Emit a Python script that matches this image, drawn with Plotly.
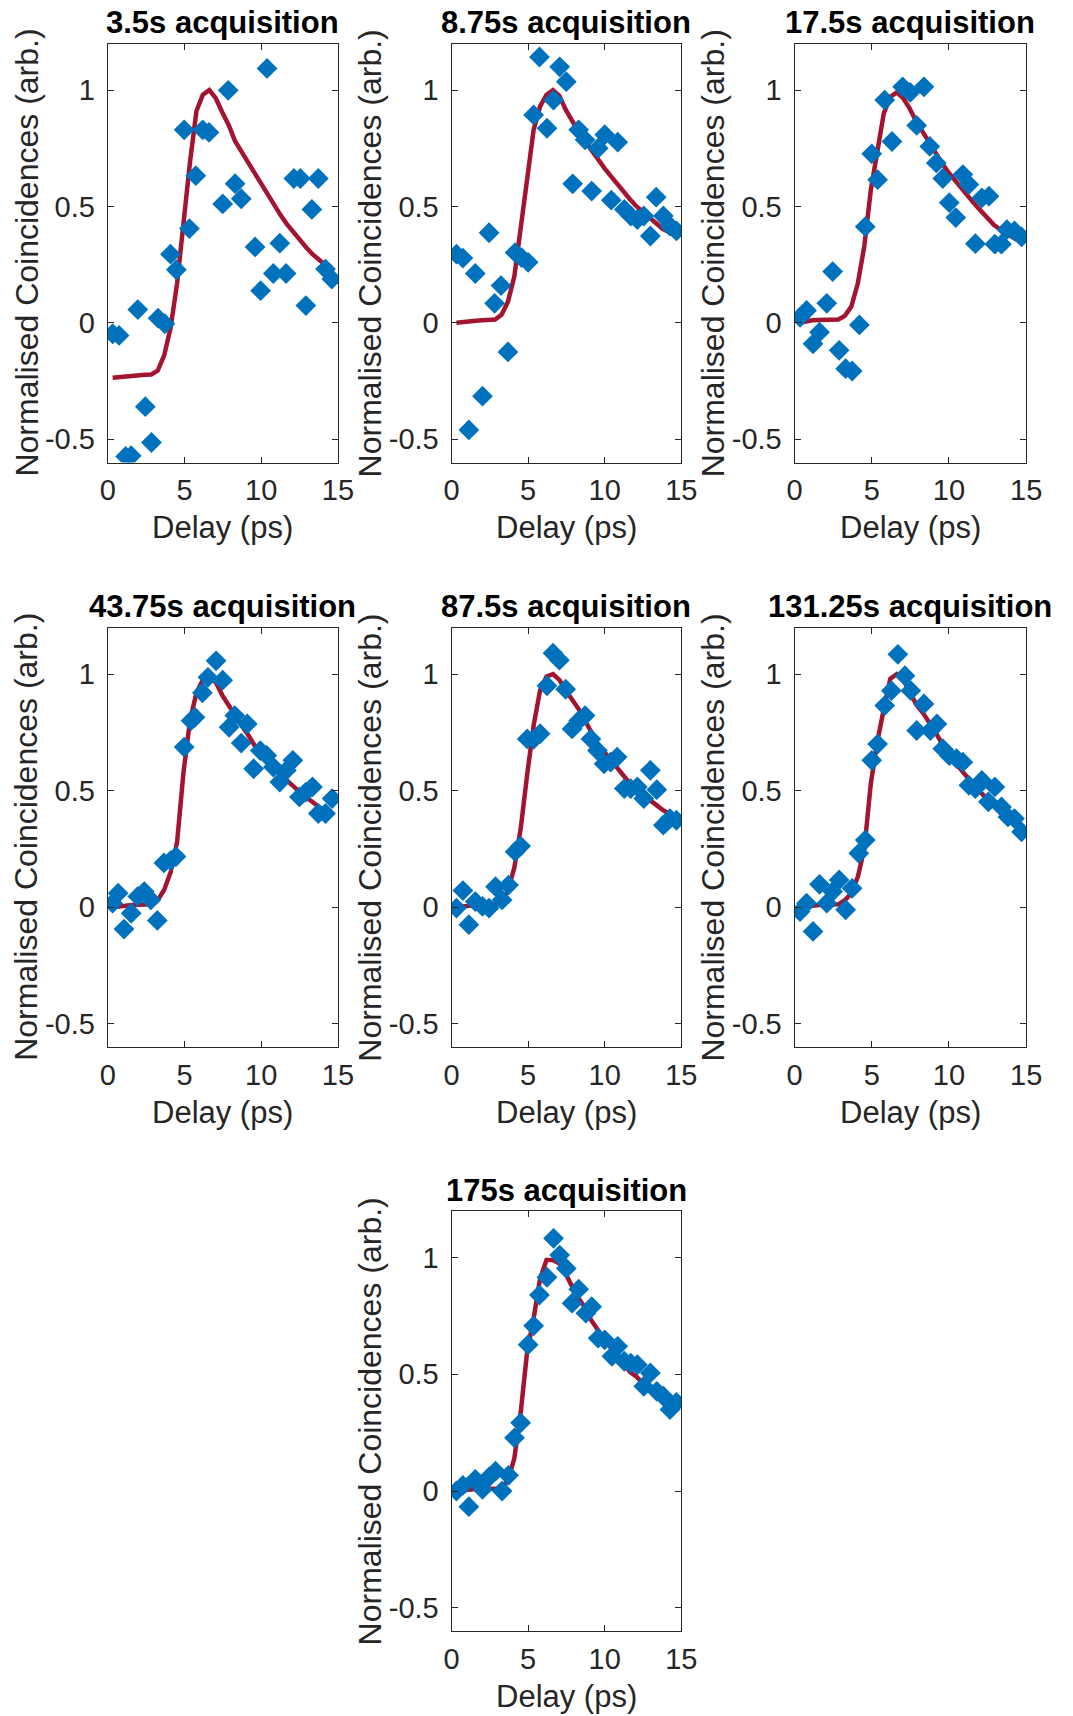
import plotly.graph_objects as go

# ---------------- data ----------------
titles = ["3.5s acquisition", "8.75s acquisition", "17.5s acquisition",
          "43.75s acquisition", "87.5s acquisition", "131.25s acquisition",
          "175s acquisition"]

fit_delay = [0.32, 0.74, 1.16, 1.58, 2.0, 2.42, 2.84, 3.26, 3.68, 4.1, 4.52, 4.94,
             5.36, 5.78, 6.2, 6.62, 7.04, 7.46, 7.88, 8.3, 8.72, 9.14, 9.56, 9.98,
             10.4, 10.82, 11.24, 11.66, 12.08, 12.5, 12.92, 13.34, 13.76, 14.18, 14.6]

x1 = [0.32, 0.74, 1.17, 1.53, 1.96, 2.45, 2.85, 3.28, 3.72, 4.09, 4.47, 4.98, 5.32, 5.74,
      6.19, 6.6, 7.49, 7.85, 8.3, 8.7, 9.6, 9.96, 10.38, 10.79, 11.21, 11.62, 12.13,
      12.55, 12.91, 13.3, 13.72, 14.19, 14.6]
y1 = [-0.047, -0.054, -0.574, -0.571, 0.057, -0.36, -0.514, 0.02, -0.004, 0.295, 0.228,
      0.829, 0.405, 0.632, 0.829, 0.818, 0.511, 0.999, 0.598, 0.533, 0.326, 0.138, 1.093,
      0.212, 0.342, 0.212, 0.62, 0.62, 0.074, 0.487, 0.62, 0.231, 0.188]
fit1 = [-0.236, -0.233, -0.229, -0.226, -0.224, -0.223, -0.222, -0.205, -0.14, -0.02, 0.17,
        0.45, 0.69, 0.91, 0.98, 1.0, 0.965, 0.905, 0.85, 0.78, 0.735, 0.685, 0.64, 0.595,
        0.55, 0.51, 0.465, 0.425, 0.39, 0.355, 0.325, 0.295, 0.27, 0.245, 0.225]

x2 = [0.32, 0.74, 1.13, 1.55, 2.02, 2.45, 2.81, 3.23, 3.68, 4.15, 4.57, 5.0, 5.36, 5.74,
      6.23, 6.66, 7.06, 7.49, 7.91, 8.3, 8.72, 9.15, 9.57, 10.0, 10.43, 10.85, 11.28,
      11.7, 12.13, 12.55, 12.98, 13.36, 13.83, 14.26, 14.68]
y2 = [0.295, 0.278, -0.46, 0.212, -0.315, 0.387, 0.084, 0.16, -0.125, 0.302, 0.28, 0.26,
      0.893, 1.142, 0.836, 0.957, 1.1, 1.036, 0.597, 0.829, 0.786, 0.566, 0.75, 0.808,
      0.527, 0.776, 0.487, 0.459, 0.444, 0.459, 0.373, 0.54, 0.459, 0.416, 0.395]
fit2 = [0.0, 0.004, 0.007, 0.009, 0.011, 0.012, 0.014, 0.035, 0.09, 0.2, 0.41, 0.64, 0.83,
        0.93, 0.98, 1.0, 0.975, 0.915, 0.865, 0.82, 0.78, 0.74, 0.70, 0.665, 0.63, 0.595,
        0.56, 0.53, 0.50, 0.475, 0.45, 0.425, 0.405, 0.39, 0.375]

x3 = [0.36, 0.78, 1.2, 1.62, 2.09, 2.47, 2.89, 3.31, 3.73, 4.2, 4.58, 5.0, 5.38, 5.84,
      6.31, 7.0, 7.49, 7.91, 8.38, 8.76, 9.18, 9.6, 10.02, 10.44, 10.9, 11.29, 11.71,
      12.13, 12.59, 12.97, 13.4, 13.75, 14.24, 14.7]
y3 = [0.024, 0.053, -0.09, -0.04, 0.084, 0.22, -0.118, -0.197, -0.207, -0.009, 0.413,
      0.726, 0.615, 0.957, 0.779, 1.014, 0.99, 0.848, 1.014, 0.758, 0.687, 0.62, 0.516,
      0.452, 0.637, 0.594, 0.34, 0.537, 0.544, 0.338, 0.338, 0.4, 0.395, 0.369]
fit3 = [0.0, 0.008, 0.011, 0.012, 0.013, 0.013, 0.014, 0.03, 0.07, 0.17, 0.33, 0.57, 0.75,
        0.90, 0.97, 0.99, 0.965, 0.92, 0.865, 0.82, 0.77, 0.725, 0.685, 0.645, 0.61, 0.575,
        0.545, 0.51, 0.48, 0.45, 0.42, 0.40, 0.38, 0.365, 0.35]

x4 = [0.32, 0.68, 1.06, 1.53, 1.96, 2.38, 2.81, 3.23, 3.66, 4.1, 4.45, 4.98, 5.43, 5.68,
      6.17, 6.53, 7.06, 7.49, 7.91, 8.28, 8.7, 9.09, 9.51, 9.94, 10.36, 10.79, 11.21,
      11.64, 12.06, 12.49, 12.91, 13.34, 13.72, 14.19, 14.62]
y4 = [0.017, 0.06, -0.094, -0.026, 0.046, 0.067, 0.031, -0.057, 0.19, 0.2, 0.217, 0.687,
      0.80, 0.815, 0.92, 0.986, 1.057, 0.974, 0.772, 0.822, 0.704, 0.786, 0.594, 0.672,
      0.651, 0.601, 0.537, 0.587, 0.63, 0.473, 0.494, 0.516, 0.402, 0.402, 0.466]
fit4 = [0.0, 0.004, 0.007, 0.009, 0.01, 0.011, 0.012, 0.03, 0.075, 0.15, 0.28, 0.58, 0.80,
        0.92, 0.975, 0.99, 0.965, 0.91, 0.865, 0.825, 0.78, 0.74, 0.695, 0.66, 0.625, 0.595,
        0.57, 0.545, 0.515, 0.495, 0.473, 0.45, 0.43, 0.415, 0.40]

x5 = [0.32, 0.74, 1.13, 1.55, 2.02, 2.45, 2.87, 3.3, 3.72, 4.15, 4.51, 4.94, 5.36, 5.78,
      6.23, 6.62, 7.04, 7.45, 7.87, 8.3, 8.72, 9.1, 9.53, 9.96, 10.38, 10.81, 11.28, 11.7,
      12.13, 12.55, 12.98, 13.4, 13.83, 14.26, 14.68]
y5 = [-0.004, 0.071, -0.075, 0.024, 0.003, -0.004, 0.088, 0.031, 0.095, 0.238, 0.262,
      0.722, 0.72, 0.744, 0.95, 1.09, 1.06, 0.935, 0.765, 0.80, 0.822, 0.722, 0.672, 0.615,
      0.622, 0.644, 0.509, 0.509, 0.516, 0.466, 0.587, 0.504, 0.352, 0.38, 0.373]
fit5 = [0.0, 0.004, 0.007, 0.009, 0.01, 0.011, 0.012, 0.025, 0.07, 0.17, 0.34, 0.57, 0.78,
        0.93, 0.99, 1.0, 0.975, 0.93, 0.89, 0.85, 0.80, 0.75, 0.70, 0.665, 0.632, 0.595,
        0.56, 0.53, 0.503, 0.48, 0.46, 0.44, 0.418, 0.40, 0.385]

x6 = [0.36, 0.78, 1.2, 1.62, 2.09, 2.47, 2.89, 3.31, 3.73, 4.16, 4.58, 5.0, 5.38, 5.84,
      6.27, 6.69, 7.15, 7.53, 7.91, 8.38, 8.8, 9.22, 9.6, 10.02, 10.49, 10.9, 11.29, 11.71,
      12.13, 12.55, 12.97, 13.4, 13.82, 14.24, 14.7]
y6 = [-0.019, 0.017, -0.104, 0.098, 0.017, 0.067, 0.117, -0.011, 0.081, 0.231, 0.288,
      0.63, 0.70, 0.865, 0.929, 1.085, 0.993, 0.929, 0.758, 0.872, 0.758, 0.786, 0.68,
      0.65, 0.637, 0.622, 0.523, 0.509, 0.544, 0.452, 0.516, 0.43, 0.387, 0.38, 0.323]
fit6 = [0.0, 0.004, 0.007, 0.009, 0.01, 0.011, 0.012, 0.03, 0.06, 0.13, 0.25, 0.53, 0.71,
        0.85, 0.98, 1.0, 0.975, 0.925, 0.87, 0.835, 0.795, 0.75, 0.70, 0.655, 0.62, 0.585,
        0.55, 0.52, 0.49, 0.46, 0.435, 0.41, 0.39, 0.37, 0.35]

x7 = [0.32, 0.74, 1.13, 1.55, 2.02, 2.45, 2.87, 3.3, 3.72, 4.11, 4.51, 5.0, 5.36, 5.74,
      6.23, 6.66, 7.06, 7.49, 7.87, 8.3, 8.77, 9.15, 9.57, 10.0, 10.47, 10.85, 11.28, 11.7,
      12.13, 12.55, 12.98, 13.4, 13.83, 14.26, 14.68]
y7 = [0.0, 0.024, -0.067, 0.05, 0.007, 0.06, 0.085, 0.0, 0.067, 0.228, 0.292, 0.627,
      0.708, 0.84, 0.916, 1.083, 1.011, 0.954, 0.805, 0.865, 0.762, 0.79, 0.655, 0.648,
      0.577, 0.62, 0.556, 0.548, 0.541, 0.449, 0.506, 0.427, 0.406, 0.349, 0.38]
fit7 = [0.0, 0.004, 0.007, 0.009, 0.01, 0.011, 0.012, 0.01, 0.045, 0.14, 0.34, 0.60, 0.74,
        0.91, 0.99, 0.99, 0.975, 0.93, 0.875, 0.825, 0.785, 0.73, 0.69, 0.65, 0.615, 0.575,
        0.545, 0.51, 0.49, 0.46, 0.44, 0.41, 0.40, 0.385, 0.37]

data_x = [x1, x2, x3, x4, x5, x6, x7]
data_y = [y1, y2, y3, y4, y5, y6, y7]
fits = [fit1, fit2, fit3, fit4, fit5, fit6, fit7]

x_ticks = [0, 5, 10, 15]
x_ticktext = ["0", "5", "10", "15"]
y_ticks = [-0.5, 0, 0.5, 1]
y_ticktext = ["-0.5", "0", "0.5", "1"]

x_title = "Delay (ps)"
y_title = "Normalised Coincidences (arb.)"

# ---------------- layout geometry (pixels) ----------------
W, H = 1073, 1716
cols = [(102.0, 337.5), (453.7, 688.7), (804.5, 1041.5)]
rows = [(43.5, 462.5), (627.5, 1047.0), (1211.0, 1631.0)]
cells = [(0, 0), (0, 1), (0, 2), (1, 0), (1, 1), (1, 2), (2, 1)]

FONT = "Arial, Liberation Sans, Helvetica, sans-serif"
AX = "#262626"
BLUE = "#0072BD"
RED = "#A2142F"

fig = go.Figure()
annotations = []
layout = dict(
    width=W, height=H,
    margin=dict(l=0, r=0, t=0, b=0),
    paper_bgcolor="white", plot_bgcolor="white",
    showlegend=False,
    font=dict(family=FONT, color=AX),
)

for i, (r, c) in enumerate(cells):
    n = i + 1
    xs = "" if n == 1 else str(n)
    x0, x1p = cols[c]
    t0, b0 = rows[r]
    wpx = x1p - x0
    hpx = b0 - t0

    fig.add_trace(go.Scatter(
        x=fit_delay, y=fits[i], mode="lines",
        line=dict(color=RED, width=4.5),
        xaxis="x" + xs, yaxis="y" + xs, hoverinfo="skip"))
    fig.add_trace(go.Scatter(
        x=data_x[i], y=data_y[i], mode="markers",
        marker=dict(symbol="diamond", size=16, color=BLUE, line=dict(width=0)),
        xaxis="x" + xs, yaxis="y" + xs))

    layout["xaxis" + xs] = dict(
        domain=[x0 / W, x1p / W], anchor="y" + xs, range=[0, 15],
        tickvals=x_ticks, ticktext=x_ticktext,
        showline=True, linecolor=AX, linewidth=1, mirror="ticks",
        ticks="inside", ticklen=6, tickcolor=AX, tickwidth=1,
        showgrid=False, zeroline=False, ticklabelstandoff=2,
        tickfont=dict(family=FONT, size=29, color=AX), fixedrange=True)
    layout["yaxis" + xs] = dict(
        domain=[1 - b0 / H, 1 - t0 / H], anchor="x" + xs, range=[-0.6, 1.2],
        tickvals=y_ticks, ticktext=y_ticktext,
        showline=True, linecolor=AX, linewidth=1, mirror="ticks",
        ticks="inside", ticklen=6, tickcolor=AX, tickwidth=1,
        showgrid=False, zeroline=False, ticklabelstandoff=6,
        tickfont=dict(family=FONT, size=29, color=AX), fixedrange=True)

    xd = "x" + xs + " domain"
    yd = "y" + xs + " domain"
    annotations.append(dict(
        text="<b>" + titles[i] + "</b>", xref=xd, yref=yd, x=0.5, y=1 + 21 / hpx,
        xanchor="center", yanchor="middle", showarrow=False,
        font=dict(family=FONT, size=31, color="black")))
    annotations.append(dict(
        text=x_title, xref=xd, yref=yd, x=0.5, y=-65 / hpx,
        xanchor="center", yanchor="middle", showarrow=False,
        font=dict(family=FONT, size=31, color=AX)))
    annotations.append(dict(
        text=y_title, xref=xd, yref=yd, x=-83 / wpx, y=0.5, textangle=-90,
        xanchor="center", yanchor="middle", showarrow=False,
        font=dict(family=FONT, size=32, color=AX)))

layout["annotations"] = annotations
fig.update_layout(**layout)
fig.write_html("out.html",
               post_script="document.body.style.margin='0';document.body.style.overflow='hidden';")
